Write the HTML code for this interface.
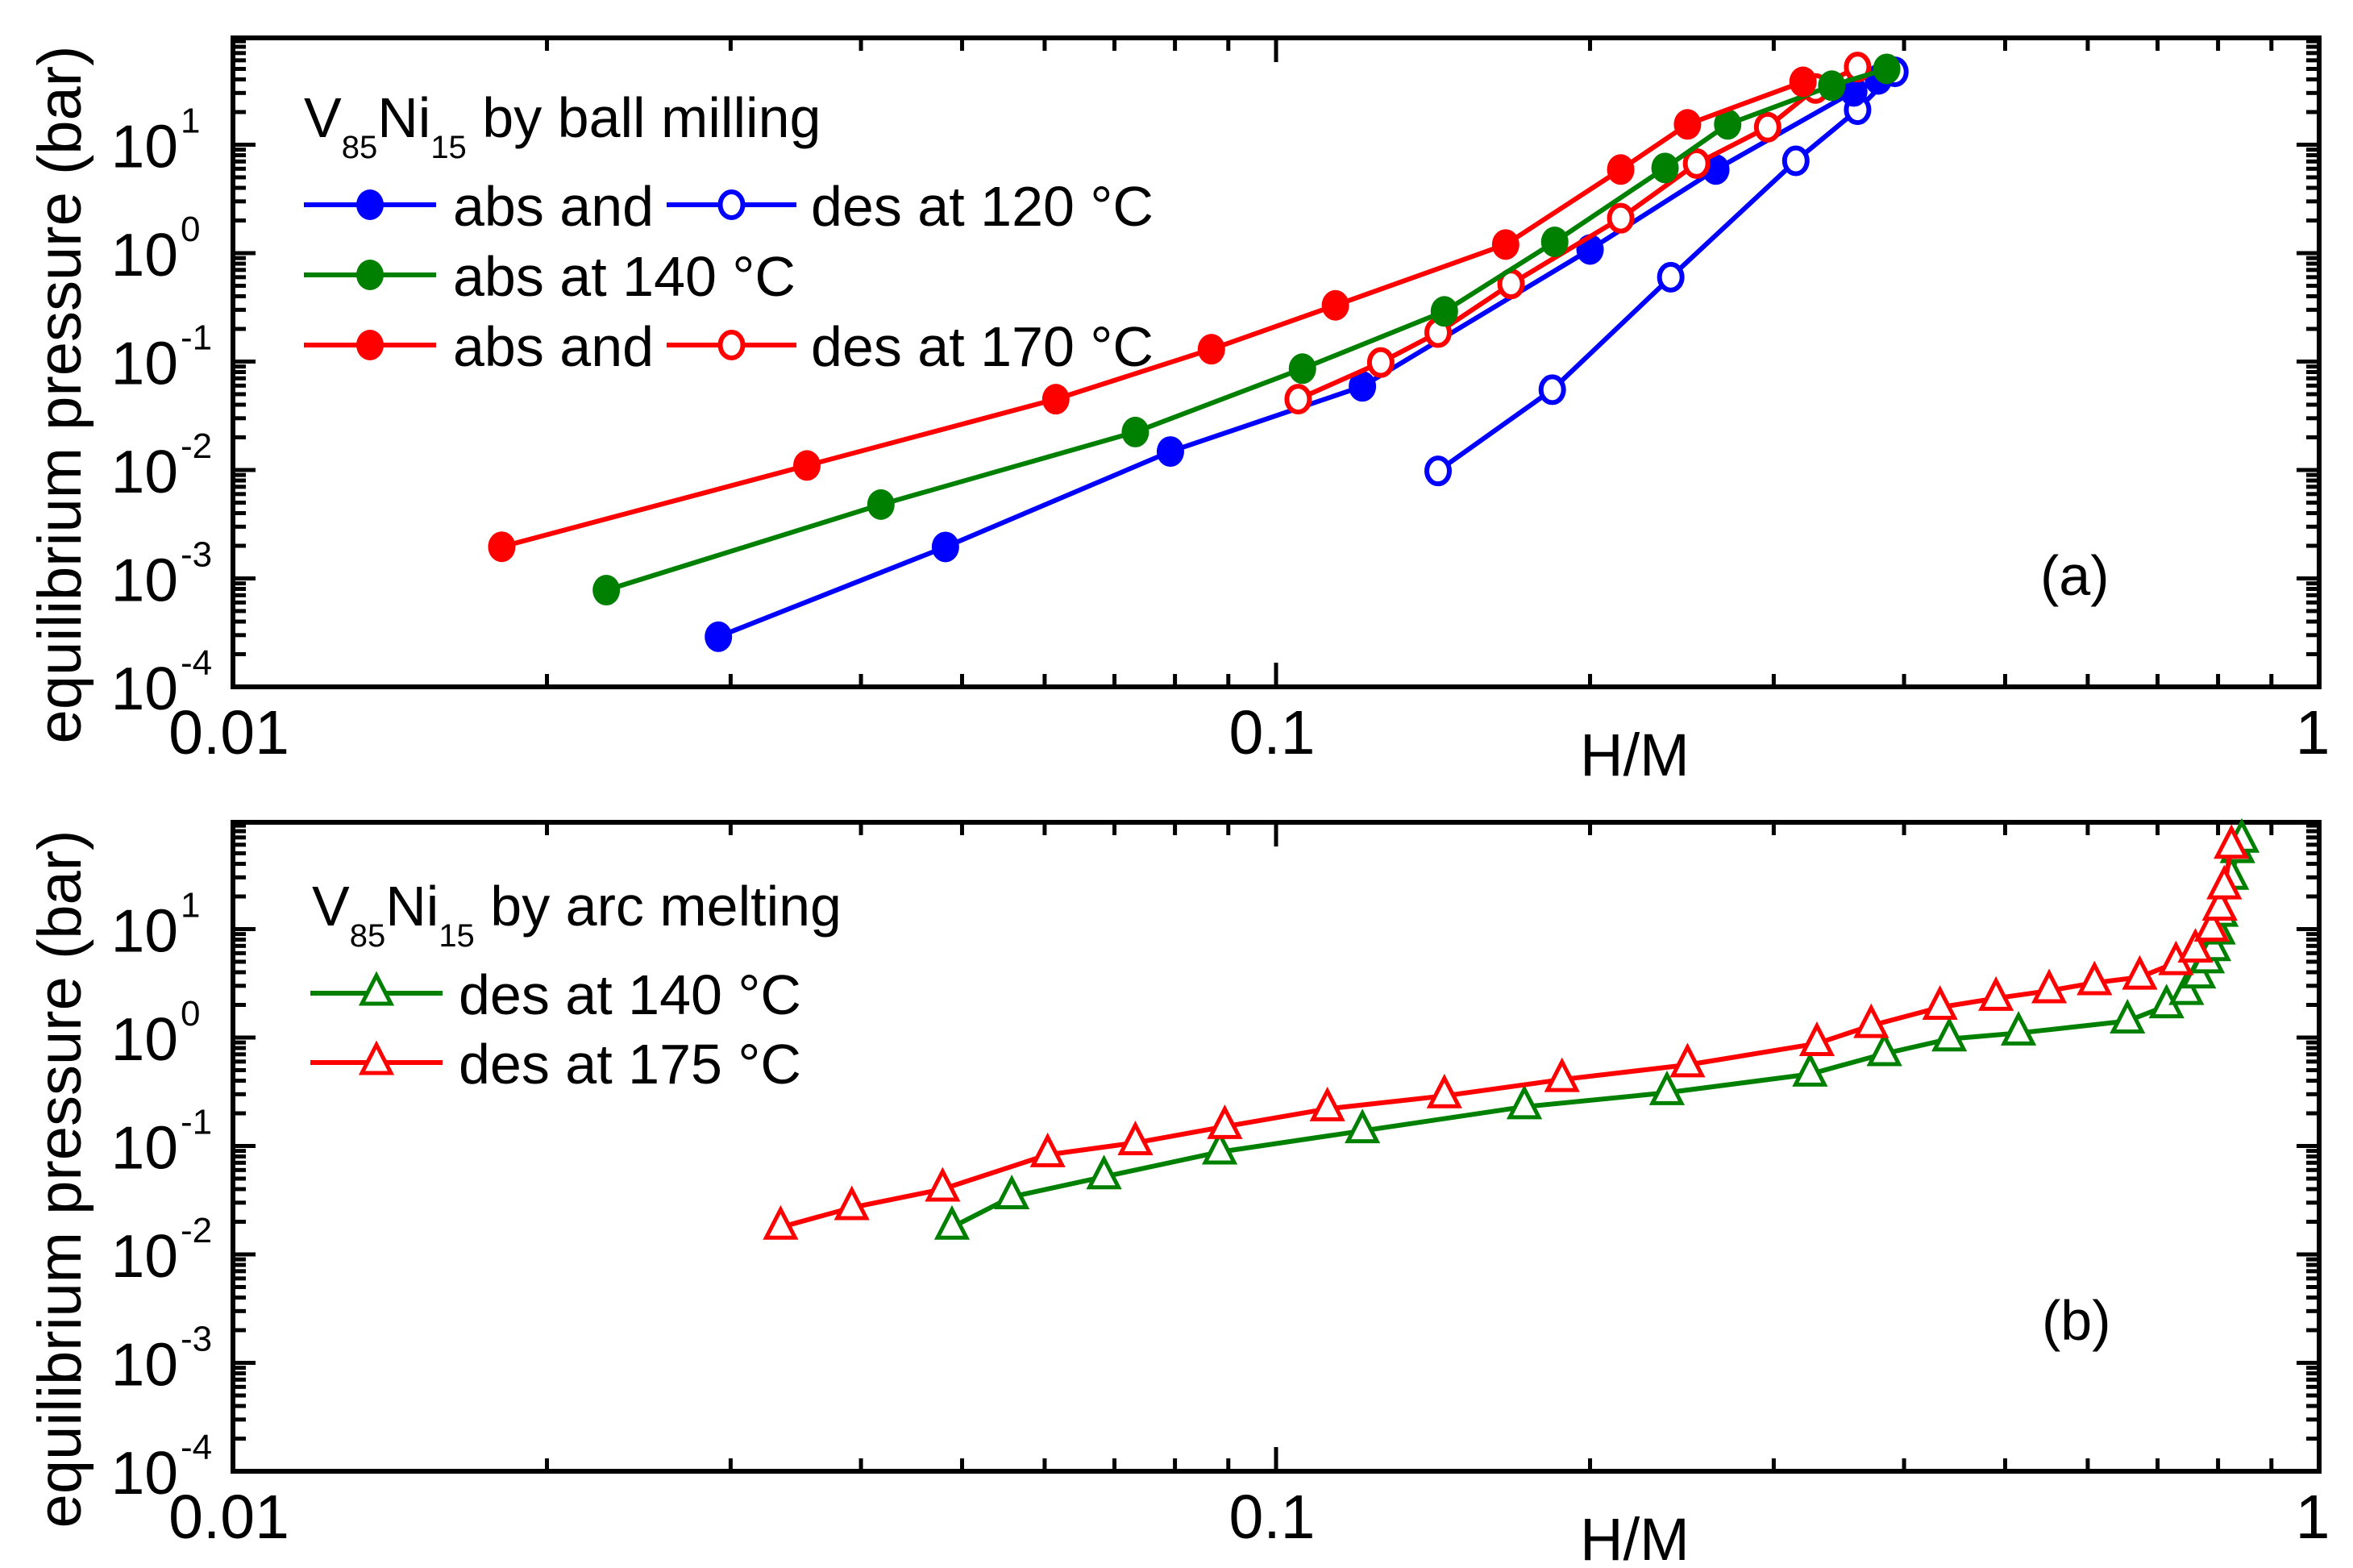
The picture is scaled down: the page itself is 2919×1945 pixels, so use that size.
<!DOCTYPE html>
<html><head><meta charset="utf-8"><style>
html,body{margin:0;padding:0;background:#fff}
svg{display:block}
text{font-family:"Liberation Sans",Arial,sans-serif;fill:#000}
</style></head><body>
<svg id="chart" width="2919" height="1945" viewBox="0 0 2919 1945" xmlns="http://www.w3.org/2000/svg"></svg>
<script>
// ---- Panel (a) data: ball milling ----
const aBlueAbsX = [0.0292,0.0482,0.0792,0.121,0.200,0.264,0.358,0.378];
const aBlueAbsY = [2.9e-4,1.95e-3,0.0148,0.059,1.08,5.9,31,40];
const aBlueDesX = [0.143,0.184,0.239,0.315,0.361,0.392];
const aBlueDesY = [0.0098,0.055,0.6,7.1,21,47];
const aGreenAbsX = [0.0228,0.0418,0.0733,0.106,0.145,0.185,0.236,0.271,0.341,0.385];
const aGreenAbsY = [7.8e-4,4.8e-3,0.0224,0.086,0.29,1.27,6.1,15.4,35,50];
const aRedAbsX = [0.0181,0.0355,0.0615,0.0867,0.114,0.166,0.214,0.248,0.320];
const aRedAbsY = [1.96e-3,0.011,0.045,0.13,0.33,1.2,5.9,15.4,38];
const aRedDesX = [0.105,0.126,0.143,0.168,0.214,0.253,0.296,0.329,0.361];
const aRedDesY = [0.045,0.098,0.185,0.52,2.1,6.7,14.5,33,52];
// ---- Panel (b) data: arc melting ----
const bGreenX = [0.0489,0.0558,0.0684,0.0883,0.121,0.173,0.237,0.325,0.383,0.442,0.515,0.655,0.714,0.746,0.766,0.781,0.792,0.800,0.805,0.824,0.835,0.843];
const bGreenY = [0.0178,0.034,0.052,0.088,0.138,0.23,0.31,0.46,0.71,0.97,1.1,1.42,1.96,2.6,3.7,5.1,6.6,9.4,13.7,30,53,66];
const bRedX = [0.0335,0.0392,0.0479,0.0604,0.0733,0.0893,0.112,0.145,0.188,0.248,0.330,0.372,0.433,0.490,0.551,0.609,0.673,0.729,0.761,0.789,0.803,0.811,0.824];
const bRedY = [0.0178,0.027,0.04,0.083,0.107,0.151,0.22,0.29,0.41,0.56,0.88,1.29,1.9,2.3,2.7,3.2,3.6,4.9,6.4,10,15.6,24.5,58];
const yTickExp = ["1","0","-1","-2","-3","-4"];
const xTickLabels = ["0.01","0.1","1"];

const NS="http://www.w3.org/2000/svg";
const svg=document.getElementById('chart');
function mk(tag,attrs,parent){const e=document.createElementNS(NS,tag);for(const k in attrs)e.setAttribute(k,attrs[k]);(parent||svg).appendChild(e);return e;}
const L=289,R=2877,DEC=1294;
const YMAXLOG=1.985;
function xs(v){return L+(Math.log10(v)+2)*DEC;}
function makeY(top,bot){const d=(bot-top)/(YMAXLOG+4);return v=>bot-(Math.log10(v)+4)*d;}
const BLUE="#0000ff",GREEN="#008000",RED="#ff0000";

function panel(top,bot,name){
  const ys=makeY(top,bot);
  const g=mk('g',{});
  
  
  for(let e=-2;e<=0;e++){
    for(let m=1;m<=9;m++){
      const v=m*Math.pow(10,e); if(v>1) break;
      const x=xs(v); const len=(m===1)?30:16;
      mk('line',{x1:x,y1:bot,x2:x,y2:bot-len,stroke:'#000','stroke-width':5},g);
      mk('line',{x1:x,y1:top,x2:x,y2:top+len,stroke:'#000','stroke-width':5},g);
    }
  }
  for(let e=-4;e<=1;e++){
    for(let m=1;m<=9;m++){
      const v=m*Math.pow(10,e); if(Math.log10(v)>YMAXLOG) break;
      const y=ys(v); const len=(m===1)?28:16;
      mk('line',{x1:L,y1:y,x2:L+len,y2:y,stroke:'#000','stroke-width':5},g);
      mk('line',{x1:R,y1:y,x2:R-len,y2:y,stroke:'#000','stroke-width':5},g);
    }
  }
  mk('rect',{x:L,y:top,width:R-L,height:bot-top,fill:'none',stroke:'#000','stroke-width':6},g);
  yTickExp.forEach(ex=>{
    const y=ys(Math.pow(10,+ex));
    const t=mk('text',{x:221,y:y+28,'font-size':75,'text-anchor':'end'},g);
    
    
    t.textContent='10';
    const s=mk('text',{x:224,y:y-15,'font-size':44,'text-anchor':'start'},g);
    s.textContent=ex;
  });
  xTickLabels.forEach(lab=>{
    const t=mk('text',{x:xs(+lab)+(lab==='1'?-8:-5),y:bot+83,'font-size':77,'text-anchor':'middle'},g);
    
    
    t.textContent=lab;
  });
  const xt=mk('text',{x:2028,y:bot+110,'font-size':74,'text-anchor':'middle'},g);
  
  
  xt.textContent='H/M';
  const cy=(top+bot)/2+40;
  const yt=mk('text',{x:0,y:0,'font-size':76,'text-anchor':'middle',transform:`translate(100,${cy}) rotate(-90)`},g);
  
  
  yt.textContent='equilibrium pressure (bar)';
  return ys;
}

function series(xsArr,ysArr,ys,color,marker,name){
  const g=mk('g',{});
  
  
  const pts=xsArr.map((v,i)=>[xs(v),ys(ysArr[i])]);
  mk('polyline',{points:pts.map(p=>p.join(',')).join(' '),fill:'none',stroke:color,'stroke-width':6,'stroke-linejoin':'round'},g);
  pts.forEach(p=>drawMarker(g,p[0],p[1],color,marker));
}
function drawMarker(g,x,y,color,marker){
  let m;
  if(marker==='filled') m=mk('ellipse',{cx:x,cy:y,rx:17,ry:19,fill:color},g);
  else if(marker==='open') m=mk('ellipse',{cx:x,cy:y,rx:14,ry:16,fill:'#fff',stroke:color,'stroke-width':6},g);
  else m=mk('polygon',{points:`${x},${y-22} ${x-18},${y+13} ${x+18},${y+13}`,fill:'#fff',stroke:color,'stroke-width':5},g);
  
  
}
function legendRow(parent,x1,x2,y,color,marker,text,tx){
  mk('line',{x1:x1,y1:y,x2:x2,y2:y,stroke:color,'stroke-width':6},parent);
  drawMarker(parent,(x1+x2)/2,y,color,marker);
  if(text){const t=mk('text',{x:tx,y:y+26,'font-size':70},parent);t.textContent=text;}
}

// Panel a
const ya=panel(47,852,'panel-a');
series(aBlueDesX,aBlueDesY,ya,BLUE,'open','series-des-120');
series(aBlueAbsX,aBlueAbsY,ya,BLUE,'filled','series-abs-120');
series(aRedDesX,aRedDesY,ya,RED,'open','series-des-170');
series(aGreenAbsX,aGreenAbsY,ya,GREEN,'filled','series-abs-140');
series(aRedAbsX,aRedAbsY,ya,RED,'filled','series-abs-170');

const la=mk('g',{});


const ta=mk('text',{x:377,y:170,'font-size':70},la);
ta.innerHTML='V<tspan font-size="40" dy="26">85</tspan><tspan dy="-26">Ni</tspan><tspan font-size="40" dy="26">15</tspan><tspan dy="-26"> by ball milling</tspan>';
legendRow(la,377,541,254,BLUE,'filled','abs and',562);
legendRow(la,827,988,254,BLUE,'open','des at 120 °C',1006);
legendRow(la,377,541,341,GREEN,'filled','abs at 140 °C',562);
legendRow(la,377,541,428,RED,'filled','abs and',562);
legendRow(la,827,988,428,RED,'open','des at 170 °C',1006);
const pa=mk('text',{x:2531,y:738,'font-size':70},la);pa.textContent='(a)';

// Panel b
const yb=panel(1020,1825,'panel-b');
series(bGreenX,bGreenY,yb,GREEN,'tri','series-des-140-arc');
series(bRedX,bRedY,yb,RED,'tri','series-des-175-arc');
const lb=mk('g',{});


const tb=mk('text',{x:387,y:1148,'font-size':70},lb);
tb.innerHTML='V<tspan font-size="40" dy="26">85</tspan><tspan dy="-26">Ni</tspan><tspan font-size="40" dy="26">15</tspan><tspan dy="-26"> by arc melting</tspan>';
legendRow(lb,385,549,1232,GREEN,'tri','des at 140 °C',569);
legendRow(lb,385,549,1318,RED,'tri','des at 175 °C',569);
const pb=mk('text',{x:2533,y:1662,'font-size':70},lb);pb.textContent='(b)';
</script>
</body></html>
